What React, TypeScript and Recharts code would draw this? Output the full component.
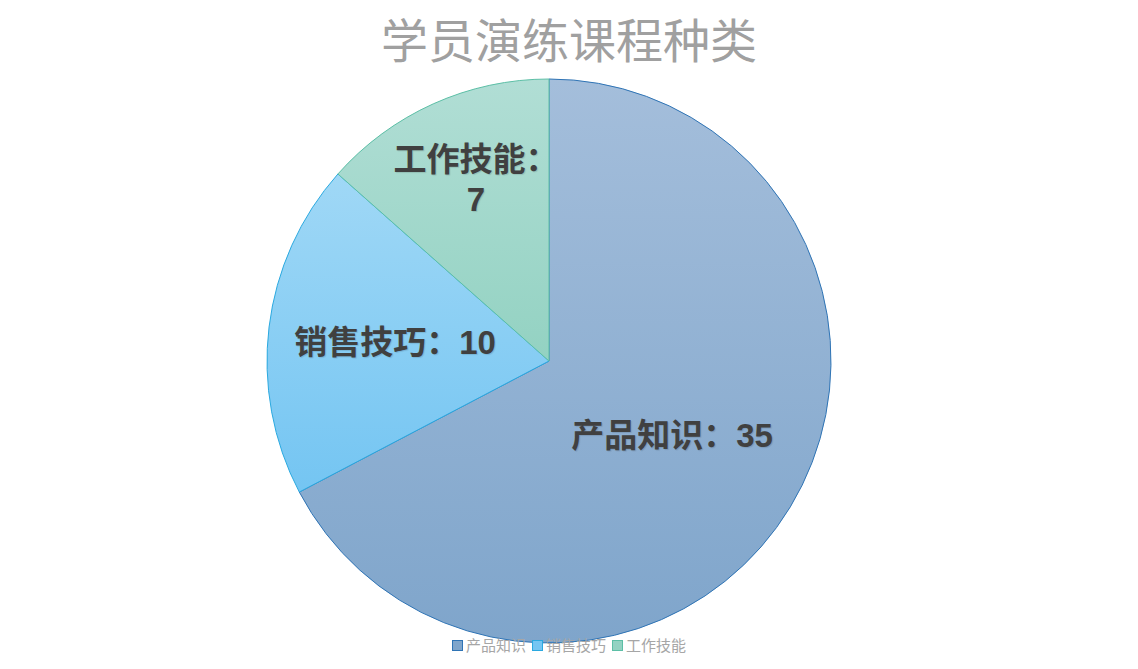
import { Cell, Pie, PieChart } from "recharts";

const categories = ["产品知识", "销售技巧", "工作技能"];
const counts = [35, 10, 7];
const topColors = ["#a4bedb", "#a0d8f6", "#b1ded5"];
const bottomColors = ["#7fa5cb", "#74c5f2", "#93d2c2"];
const strokes = ["#2f74b5", "#2aa9e0", "#5cbfa6"];

const data = categories.map((name, i) => ({ name, value: counts[i] }));

const RAD = Math.PI / 180;
// how far out from the centre each label sits (fraction of radius)
const labelReach = [0.51, 0.55, 0.7];

const fontCJK = '"Liberation Sans", "Noto Sans CJK SC", sans-serif';

function renderLabel(props: any) {
  const { cx, cy, midAngle, outerRadius, index, name, value } = props;
  const r = outerRadius * labelReach[index];
  const x = cx + r * Math.cos(-midAngle * RAD);
  const y = cy + r * Math.sin(-midAngle * RAD);
  const common = {
    fill: "#404040",
    fontSize: 33,
    fontWeight: 700,
    fontFamily: fontCJK,
    textAnchor: "middle" as const,
    style: { textShadow: "1px 1px 1px rgba(0,0,0,0.12)" },
  };
  if (index === 2) {
    return (
      <text key={`l${index}`} x={x} y={y} {...common}>
        <tspan x={x + 8} dy={-10}>{`${name}：`}</tspan>
        <tspan x={x + 8} dy={40}>{value}</tspan>
      </text>
    );
  }
  return (
    <text key={`l${index}`} x={x} y={y} dominantBaseline="central" {...common}>
      {`${name}：${value}`}
    </text>
  );
}

export default function App() {
  return (
    <div style={{ position: "absolute", left: 0, top: 0, width: 1138, height: 669, background: "#fff" }}>
      <div
        style={{
          position: "absolute",
          top: 8,
          left: 0,
          width: 1138,
          textAlign: "center",
          fontSize: 47,
          color: "#a0a0a0",
          fontFamily: '"Noto Sans CJK SC", sans-serif',
          lineHeight: "60px",
        }}
      >
        学员演练课程种类
      </div>
      <PieChart width={1138} height={669}>
        <defs>
          {categories.map((c, i) => (
            <linearGradient key={c} id={`slice-${i}`} x1="0" y1="0" x2="0" y2="1">
              <stop offset="0%" stopColor={topColors[i]} />
              <stop offset="100%" stopColor={bottomColors[i]} />
            </linearGradient>
          ))}
        </defs>
        <Pie
          data={data}
          dataKey="value"
          nameKey="name"
          cx={544}
          cy={356}
          outerRadius={282}
          startAngle={90}
          endAngle={-270}
          labelLine={false}
          label={renderLabel}
          isAnimationActive={false}
        >
          {data.map((d, i) => (
            <Cell key={d.name} fill={`url(#slice-${i})`} stroke={strokes[i]} strokeWidth={1} />
          ))}
        </Pie>
      </PieChart>
      <div
        style={{
          position: "absolute",
          top: 635,
          left: 0,
          width: 1138,
          display: "flex",
          justifyContent: "center",
          gap: 6,
          fontSize: 15,
          color: "#a6a6a6",
          fontFamily: '"Noto Sans CJK SC", sans-serif',
          lineHeight: "20px",
        }}
      >
        {categories.map((c, i) => (
          <span key={c} style={{ display: "flex", alignItems: "center", gap: 3 }}>
            <span
              style={{
                width: 9,
                height: 9,
                background: bottomColors[i],
                border: `1px solid ${strokes[i]}`,
                display: "inline-block",
              }}
            />
            {c}
          </span>
        ))}
      </div>
    </div>
  );
}
